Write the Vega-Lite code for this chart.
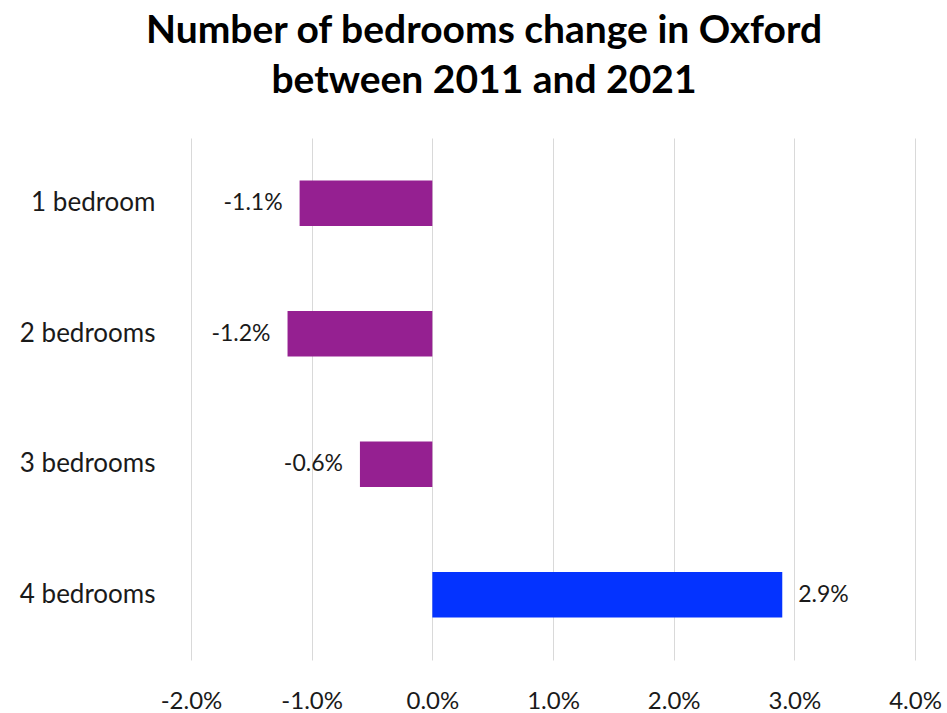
{
  "$schema": "https://vega.github.io/schema/vega-lite/v6.json",
  "width": 724,
  "height": 522,
  "autosize": {"type": "none"},
  "padding": {"left": 191, "top": 138, "right": 32, "bottom": 53},
  "background": "white",
  "title": {
    "text": ["Number of bedrooms change in Oxford", "between 2011 and 2021"],
    "font": "Lato",
    "fontSize": 39,
    "fontWeight": "bold",
    "color": "#000000",
    "anchor": "middle",
    "dx": -69,
    "offset": 37,
    "lineHeight": 50
  },
  "data": {
    "values": [
      {"category": "1 bedroom", "change": -0.011, "label": "-1.1%", "type": "neg"},
      {"category": "2 bedrooms", "change": -0.012, "label": "-1.2%", "type": "neg"},
      {"category": "3 bedrooms", "change": -0.006, "label": "-0.6%", "type": "neg"},
      {"category": "4 bedrooms", "change": 0.029, "label": "2.9%", "type": "pos"}
    ]
  },
  "config": {
    "view": {"stroke": null},
    "font": "Lato"
  },
  "encoding": {
    "y": {
      "field": "category",
      "type": "nominal",
      "sort": null,
      "title": null,
      "scale": {"paddingInner": 0.65, "paddingOuter": 0.325},
      "axis": {
        "domain": false,
        "ticks": false,
        "grid": false,
        "labelFont": "Lato",
        "labelFontSize": 26,
        "labelColor": "#1a1a1a",
        "labelPadding": 36
      }
    },
    "x": {
      "field": "change",
      "type": "quantitative",
      "title": null,
      "scale": {"domain": [-0.02, 0.04], "nice": false, "zero": false},
      "axis": {
        "values": [-0.02, -0.01, 0, 0.01, 0.02, 0.03, 0.04],
        "labelExpr": "replace(format(datum.value, '.1%'), '\u2212', '-')",
        "labelFlush": false,
        "labelOverlap": false,
        "domain": false,
        "ticks": false,
        "grid": true,
        "gridColor": "#d9d9d9",
        "gridWidth": 1,
        "labelFont": "Lato",
        "labelFontSize": 24,
        "labelColor": "#1a1a1a",
        "labelPadding": 29
      }
    }
  },
  "layer": [
    {
      "mark": {"type": "bar"},
      "encoding": {
        "color": {
          "field": "type",
          "type": "nominal",
          "scale": {"domain": ["neg", "pos"], "range": ["#952091", "#0433FF"]},
          "legend": null
        }
      }
    },
    {
      "transform": [{"filter": "datum.change < 0"}],
      "mark": {"type": "text", "align": "right", "dx": -17, "fontSize": 23, "color": "#1a1a1a", "font": "Lato"},
      "encoding": {"text": {"field": "label"}}
    },
    {
      "transform": [{"filter": "datum.change > 0"}],
      "mark": {"type": "text", "align": "left", "dx": 16, "fontSize": 23, "color": "#1a1a1a", "font": "Lato"},
      "encoding": {"text": {"field": "label"}}
    }
  ]
}
